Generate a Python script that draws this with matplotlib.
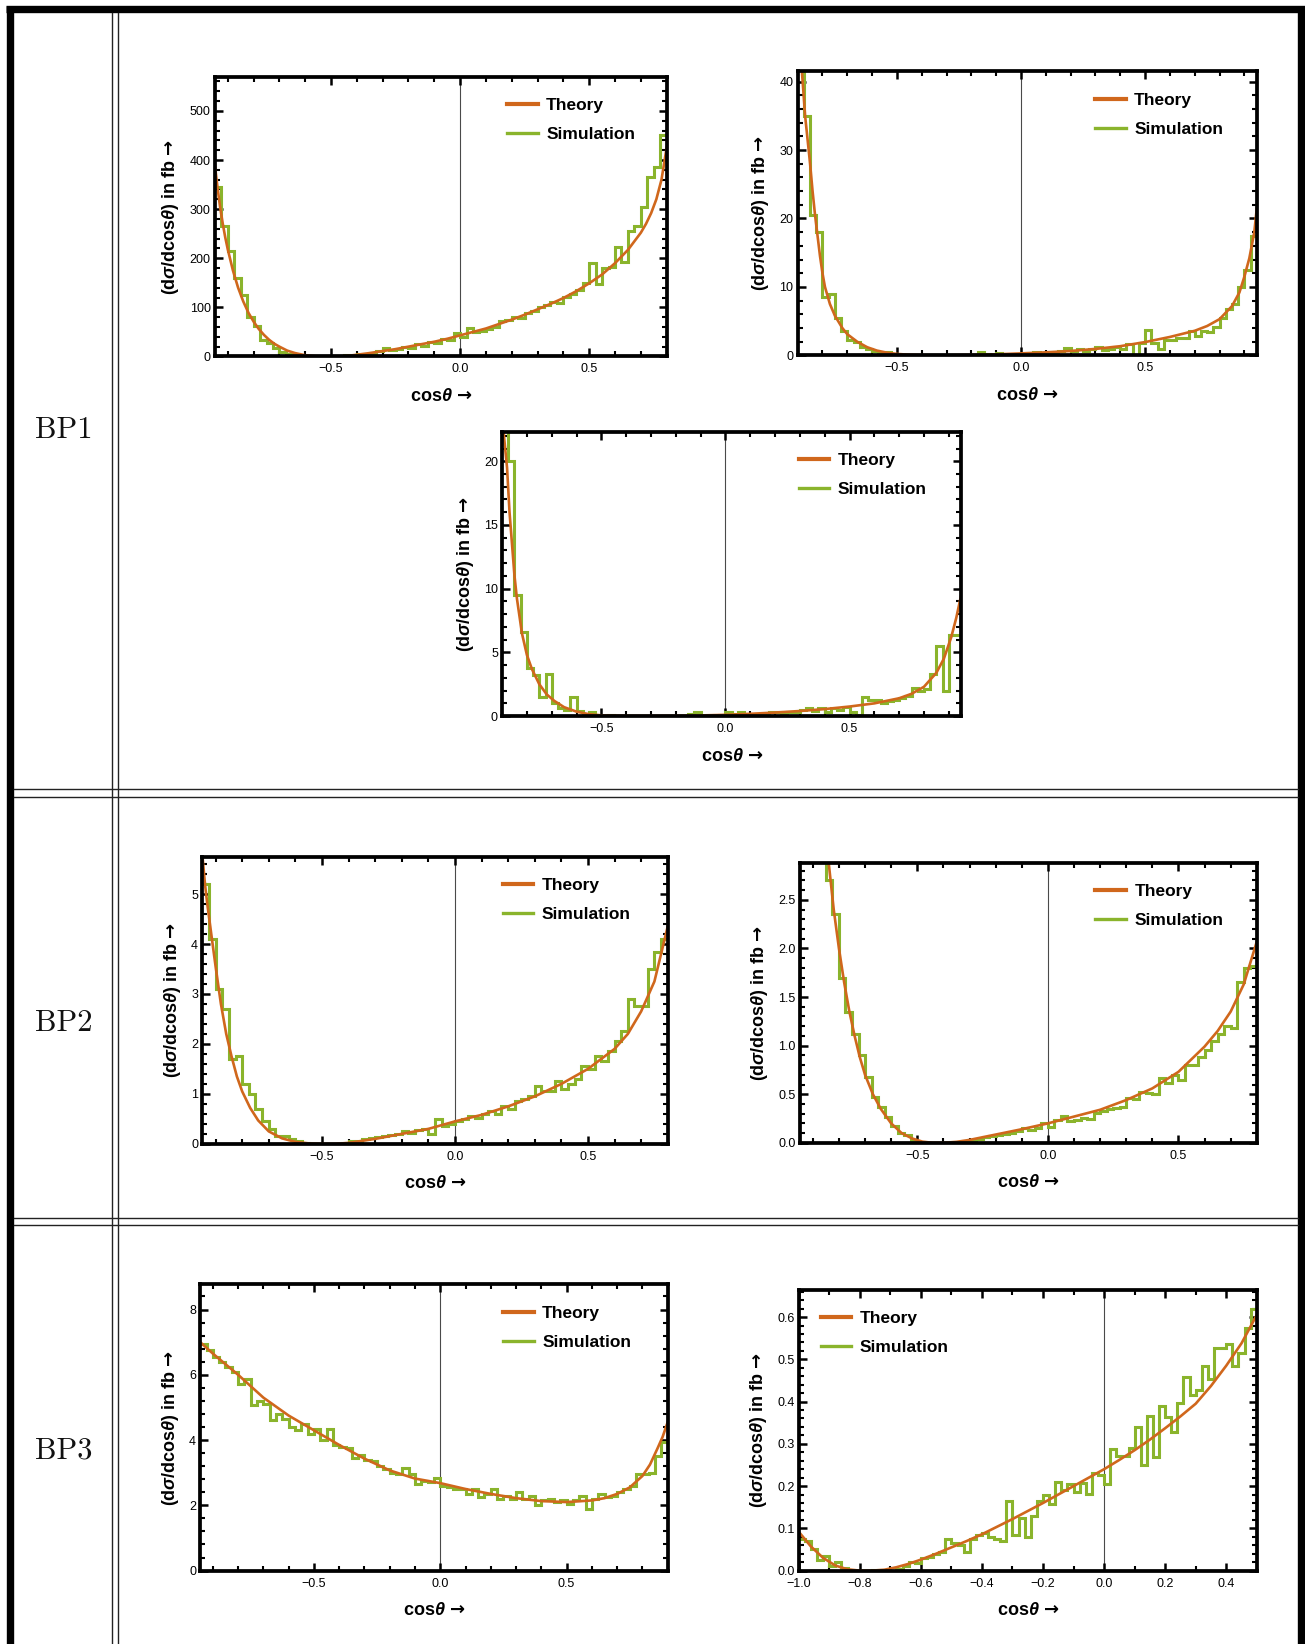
import numpy as np
import matplotlib
matplotlib.use('Agg')
import matplotlib.pyplot as plt
from matplotlib.lines import Line2D
from matplotlib.ticker import MultipleLocator

plt.rcParams['font.family'] = ['Liberation Sans', 'DejaVu Sans']
plt.rcParams['mathtext.fontset'] = 'custom'
plt.rcParams['mathtext.rm'] = 'Liberation Sans:bold'
plt.rcParams['mathtext.bf'] = 'Liberation Sans:bold'
plt.rcParams['mathtext.it'] = 'Liberation Sans:bold:italic'
plt.rcParams['mathtext.sf'] = 'DejaVu Sans:bold'

# ---------------------------------------------------------------- data
row_labels = ['BP1', 'BP2', 'BP3']
legend_labels = ['Theory', 'Simulation']

# BP1 - top left
bp1a_theory_x = [-0.95, -0.94, -0.93, -0.92, -0.91, -0.9, -0.88, -0.86, -0.84, -0.82,
                 -0.8, -0.78, -0.76, -0.74, -0.72, -0.7, -0.67, -0.64, -0.6, -0.56,
                 -0.52, -0.48, -0.44, -0.4, -0.35, -0.3, -0.25, -0.2, -0.15, -0.1,
                 -0.05, 0.0, 0.05, 0.1, 0.15, 0.2, 0.25, 0.3, 0.35, 0.4,
                 0.45, 0.5, 0.55, 0.6, 0.65, 0.7, 0.72, 0.74, 0.76, 0.78, 0.8]
bp1a_theory_y = [390, 345, 305, 272, 243, 218, 175, 140, 112, 89,
                 71, 56, 44, 34, 26, 20, 12, 7, 2.5, 0.5,
                 0, 0, 1, 3.5, 7, 11, 15, 20, 25, 30,
                 36, 43, 50, 57, 66, 75, 85, 96, 107, 119,
                 133, 149, 167, 190, 217, 252, 270, 292, 320, 360, 425]
bp1a_bin_start, bp1a_bin_width = -0.95, 0.025
bp1a_hist = [345, 265, 215, 160, 125, 80, 62, 33, 27, 18,
             10, 6, 3, 1, 0, 0, 0, 0, 0, 0.5,
             2, 4, 5, 6, 8, 11, 17, 13, 16, 20,
             18, 25, 22, 30, 28, 35, 33, 48, 40, 58,
             50, 52, 55, 60, 72, 74, 80, 78, 88, 92,
             100, 104, 110, 108, 122, 128, 135, 150, 190, 148,
             180, 182, 222, 192, 255, 265, 305, 365, 385, 450]

# BP1 - top right
bp1b_theory_x = [-0.9, -0.89, -0.88, -0.87, -0.86, -0.85, -0.84, -0.83, -0.82, -0.81,
                 -0.8, -0.79, -0.77, -0.75, -0.72, -0.7, -0.66, -0.62, -0.58, -0.54,
                 -0.5, -0.45, -0.4, -0.3, -0.2, -0.1, 0.0, 0.1, 0.2, 0.3,
                 0.4, 0.5, 0.6, 0.7, 0.75, 0.8, 0.85, 0.88, 0.9, 0.92, 0.94, 0.95]
bp1b_theory_y = [50, 45, 40, 35, 31.5, 28, 24, 20.5, 17.5, 14.5,
                 12, 10, 7.5, 5.8, 4.0, 3.1, 2.0, 1.2, 0.7, 0.4,
                 0.22, 0.1, 0.04, 0.02, 0.07, 0.16, 0.3, 0.45, 0.65, 0.95,
                 1.35, 1.95, 2.7, 3.6, 4.3, 5.3, 7.2, 9.2, 11.5, 14.2, 18, 21.5]
bp1b_bin_start, bp1b_bin_width = -0.9, 0.025
bp1b_hist = [45, 35, 20.5, 18, 8.5, 9, 5.5, 3.5, 2.2, 2.0,
             1.3, 0.9, 0.6, 0.5, 0.45, 0.2, 0.1, 0, 0, 0,
             0, 0, 0, 0, 0, 0, 0, 0, 0, 0.5,
             0.2, 0, 0.3, 0.1, 0.1, 0.2, 0.2, 0.3, 0.5, 0.3,
             0.5, 0.4, 0.6, 1.1, 0.6, 0.9, 0.7, 0.9, 1.2, 0.8,
             1.0, 1.3, 1.0, 1.6, 0.1, 1.8, 3.7, 1.8, 1.0, 2.3,
             2.3, 2.6, 2.5, 3.6, 2.9, 3.5, 3.4, 4.2, 5.5, 6.8,
             7.5, 10, 12.5, 17.5, 24]

# BP1 - middle
bp1c_theory_x = [-0.9, -0.89, -0.88, -0.87, -0.86, -0.85, -0.84, -0.82, -0.8, -0.78,
                 -0.75, -0.72, -0.69, -0.65, -0.6, -0.55, -0.5, -0.4, -0.3, -0.2,
                 -0.1, 0.0, 0.1, 0.2, 0.3, 0.4, 0.5, 0.6, 0.7, 0.75,
                 0.8, 0.85, 0.88, 0.91, 0.93, 0.95]
bp1c_theory_y = [23.5, 21.5, 19.5, 16, 13.5, 11, 9.2, 6.5, 4.8, 3.7,
                 2.5, 1.7, 1.2, 0.7, 0.35, 0.15, 0.06, 0.02, 0.01, 0.02,
                 0.05, 0.1, 0.18, 0.28, 0.4, 0.55, 0.75, 1.0, 1.4, 1.75,
                 2.3, 3.4, 4.5, 6.2, 7.7, 9.5]
bp1c_bin_start, bp1c_bin_width = -0.9, 0.025
bp1c_hist = [23, 20, 9.5, 6.6, 3.8, 3.2, 1.5, 3.3, 1.0, 0.6,
             0.5, 1.5, 0.4, 0.1, 0.3, 0.05, 0, 0.1, 0, 0,
             0, 0, 0, 0, 0, 0, 0, 0, 0, 0,
             0.2, 0.3, 0, 0.1, 0, 0.1, 0.3, 0.2, 0.3, 0.1,
             0.1, 0.2, 0.1, 0.3, 0.3, 0.2, 0.35, 0.3, 0.5, 0.6,
             0.4, 0.6, 0.3, 0.6, 0.5, 0.7, 0.3, 0.1, 1.5, 1.3,
             1.3, 1.0, 1.2, 1.3, 1.4, 1.6, 2.2, 2.0, 2.1, 3.3,
             5.5, 2.0, 6.4, 6.4, 8.8]

# BP2 - left
bp2a_theory_x = [-0.95, -0.94, -0.93, -0.92, -0.9, -0.88, -0.86, -0.84, -0.82, -0.8,
                 -0.77, -0.74, -0.7, -0.65, -0.6, -0.55, -0.5, -0.45, -0.4, -0.3,
                 -0.2, -0.1, 0.0, 0.1, 0.2, 0.3, 0.4, 0.5, 0.6, 0.65,
                 0.7, 0.75, 0.8]
bp2a_theory_y = [5.8, 5.2, 4.75, 4.35, 3.55, 2.8, 2.2, 1.75, 1.35, 1.05,
                 0.72, 0.47, 0.25, 0.11, 0.04, 0.01, 0, 0, 0.02, 0.1,
                 0.2, 0.3, 0.45, 0.58, 0.75, 0.95, 1.2, 1.5, 1.9, 2.2,
                 2.65, 3.25, 4.35]
bp2a_bin_start, bp2a_bin_width = -0.95, 0.025
bp2a_hist = [5.2, 4.1, 3.1, 2.7, 1.7, 1.75, 1.2, 1.0, 0.7, 0.45,
             0.3, 0.15, 0.15, 0.1, 0.05, 0.02, 0, 0, 0, 0,
             0, 0.02, 0.05, 0.06, 0.1, 0.12, 0.13, 0.15, 0.17, 0.2,
             0.25, 0.22, 0.28, 0.3, 0.2, 0.5, 0.35, 0.4, 0.45, 0.5,
             0.55, 0.52, 0.6, 0.65, 0.6, 0.75, 0.7, 0.85, 0.9, 0.95,
             1.15, 1.05, 1.05, 1.25, 1.1, 1.2, 1.3, 1.55, 1.5, 1.75,
             1.65, 1.85, 2.05, 2.25, 2.9, 2.75, 2.75, 3.5, 3.85, 4.1]

# BP2 - right
bp2b_theory_x = [-0.9, -0.87, -0.85, -0.84, -0.83, -0.82, -0.8, -0.78, -0.76, -0.74,
                 -0.72, -0.7, -0.67, -0.64, -0.6, -0.56, -0.52, -0.48, -0.44, -0.4,
                 -0.35, -0.3, -0.2, -0.1, 0.0, 0.1, 0.2, 0.3, 0.4, 0.5,
                 0.6, 0.65, 0.7, 0.75, 0.8]
bp2b_theory_y = [4.8, 3.7, 3.15, 2.9, 2.65, 2.4, 2.0, 1.65, 1.35, 1.1,
                 0.88, 0.7, 0.5, 0.35, 0.2, 0.1, 0.045, 0.012, 0.0, 0.0,
                 0.01, 0.03, 0.085, 0.14, 0.2, 0.27, 0.34, 0.44, 0.56, 0.73,
                 0.99, 1.15, 1.35, 1.63, 2.07]
bp2b_bin_start, bp2b_bin_width = -0.95, 0.025
bp2b_hist = [5.0, 4.4, 3.8, 3.3, 2.7, 2.35, 1.7, 1.35, 1.12, 0.9,
             0.68, 0.47, 0.37, 0.27, 0.17, 0.1, 0.08, 0.03, 0.01, 0,
             0, 0, 0, 0.005, 0.01, 0.02, 0.03, 0.04, 0.06, 0.07,
             0.08, 0.09, 0.1, 0.12, 0.15, 0.13, 0.15, 0.2, 0.16, 0.23,
             0.28, 0.22, 0.24, 0.26, 0.25, 0.31, 0.33, 0.35, 0.36, 0.37,
             0.46, 0.45, 0.52, 0.51, 0.5, 0.67, 0.62, 0.7, 0.65, 0.8,
             0.8, 0.88, 0.95, 1.05, 1.12, 1.2, 1.18, 1.65, 1.8, 1.82]

# BP3 - left
bp3a_theory_x = [-0.95, -0.9, -0.8, -0.7, -0.6, -0.5, -0.4, -0.3, -0.2, -0.1,
                 0.0, 0.1, 0.2, 0.3, 0.4, 0.5, 0.6, 0.65, 0.7, 0.75,
                 0.8, 0.83, 0.86, 0.88, 0.9]
bp3a_theory_y = [7.0, 6.65, 6.0, 5.3, 4.75, 4.3, 3.85, 3.43, 3.07, 2.82,
                 2.68, 2.5, 2.35, 2.22, 2.13, 2.1, 2.15, 2.22, 2.35, 2.55,
                 2.9, 3.25, 3.75, 4.1, 4.55]
bp3a_bin_start, bp3a_bin_width = -0.95, 0.025
bp3a_hist = [6.95, 6.75, 6.55, 6.4, 6.25, 6.1, 5.73, 5.88, 5.07, 5.2,
             5.1, 4.6, 4.8, 4.65, 4.4, 4.3, 4.5, 4.2, 4.35, 4.0,
             4.35, 3.85, 3.8, 3.75, 3.45, 3.55, 3.4, 3.35, 3.2, 3.1,
             3.0, 2.95, 3.15, 2.95, 2.65, 2.75, 2.7, 2.85, 2.6, 2.55,
             2.5, 2.5, 2.35, 2.5, 2.25, 2.35, 2.5, 2.2, 2.3, 2.2,
             2.4, 2.2, 2.3, 2.0, 2.15, 2.2, 2.1, 2.15, 2.05, 2.15,
             2.3, 1.9, 2.2, 2.35, 2.25, 2.3, 2.4, 2.5, 2.6, 2.95,
             2.95, 3.0, 3.5, 3.95, 4.3]

# BP3 - right
bp3b_theory_x = [-1.0, -0.96, -0.92, -0.88, -0.84, -0.8, -0.76, -0.72, -0.68, -0.64,
                 -0.6, -0.55, -0.5, -0.45, -0.4, -0.35, -0.3, -0.25, -0.2, -0.15,
                 -0.1, -0.05, 0.0, 0.05, 0.1, 0.15, 0.2, 0.25, 0.3, 0.35,
                 0.4, 0.45, 0.5]
bp3b_theory_y = [0.092, 0.057, 0.03, 0.012, 0.003, 0.0, 0.0, 0.002, 0.008, 0.016,
                 0.026, 0.04, 0.055, 0.07, 0.086, 0.104, 0.122, 0.141, 0.16, 0.18,
                 0.2, 0.22, 0.24, 0.262, 0.285, 0.31, 0.337, 0.365, 0.395, 0.437,
                 0.485, 0.538, 0.605]
bp3b_bin_start, bp3b_bin_width = -1.0, 0.02
bp3b_hist = [0.075, 0.07, 0.05, 0.025, 0.035, 0.01, 0.02, 0.005, 0, 0,
             0, 0, 0.002, 0.002, 0.002, 0, 0.004, 0.012, 0.02, 0.018,
             0.03, 0.033, 0.04, 0.045, 0.075, 0.065, 0.06, 0.045, 0.075, 0.085,
             0.088, 0.08, 0.075, 0.07, 0.165, 0.085, 0.125, 0.08, 0.13, 0.165,
             0.178, 0.158, 0.21, 0.19, 0.204, 0.186, 0.208, 0.182, 0.231, 0.226,
             0.204, 0.287, 0.272, 0.272, 0.289, 0.339, 0.25, 0.367, 0.269, 0.39,
             0.364, 0.329, 0.397, 0.459, 0.416, 0.428, 0.485, 0.453, 0.527, 0.527,
             0.537, 0.485, 0.516, 0.574, 0.619]

# ---------------------------------------------------------------- style / layout
ORANGE = '#D0671C'
GREEN = '#8AB42C'
W, H = 1245.0, 1568.0   # layout reference units


def rect(L, T, R, B):
    return [L / W, 1 - B / H, (R - L) / W, (B - T) / H]


panels = [
    dict(pos=(205, 73, 636, 340), xlim=(-0.95, 0.8), ylim=(0, 570), xmaj=0.5, xmin=0.1, ymaj=100, ymin=20,
         legx=0.647, tx=bp1a_theory_x, ty=bp1a_theory_y, hs=bp1a_bin_start, hw=bp1a_bin_width, hv=bp1a_hist),
    dict(pos=(761, 68, 1199, 339), xlim=(-0.9, 0.95), ylim=(0, 41.5), xmaj=0.5, xmin=0.1, ymaj=10, ymin=2,
         legx=0.648, tx=bp1b_theory_x, ty=bp1b_theory_y, hs=bp1b_bin_start, hw=bp1b_bin_width, hv=bp1b_hist),
    dict(pos=(479, 412, 917, 683), xlim=(-0.9, 0.95), ylim=(0, 22.3), xmaj=0.5, xmin=0.1, ymaj=5, ymin=1,
         legx=0.646, tx=bp1c_theory_x, ty=bp1c_theory_y, hs=bp1c_bin_start, hw=bp1c_bin_width, hv=bp1c_hist),
    dict(pos=(193, 817, 637, 1091), xlim=(-0.95, 0.8), ylim=(0, 5.75), xmaj=0.5, xmin=0.1, ymaj=1, ymin=0.2,
         legx=0.646, tx=bp2a_theory_x, ty=bp2a_theory_y, hs=bp2a_bin_start, hw=bp2a_bin_width, hv=bp2a_hist),
    dict(pos=(763, 823, 1199, 1090), xlim=(-0.95, 0.8), ylim=(0, 2.88), xmaj=0.5, xmin=0.1, ymaj=0.5, ymin=0.1,
         legx=0.647, tx=bp2b_theory_x, ty=bp2b_theory_y, hs=bp2b_bin_start, hw=bp2b_bin_width, hv=bp2b_hist),
    dict(pos=(191, 1225, 637, 1498), xlim=(-0.95, 0.9), ylim=(0, 8.77), xmaj=0.5, xmin=0.1, ymaj=2, ymin=0.4,
         legx=0.648, tx=bp3a_theory_x, ty=bp3a_theory_y, hs=bp3a_bin_start, hw=bp3a_bin_width, hv=bp3a_hist),
    dict(pos=(762, 1230, 1199, 1498), xlim=(-1.0, 0.5), ylim=(0, 0.665), xmaj=0.2, xmin=0.1, ymaj=0.1, ymin=0.02,
         legx=0.048, tx=bp3b_theory_x, ty=bp3b_theory_y, hs=bp3b_bin_start, hw=bp3b_bin_width, hv=bp3b_hist),
]

fig = plt.figure(figsize=(13.05, 16.44), dpi=100)
fig.patch.set_facecolor('white')

# table frame
bg = fig.add_axes([0, 0, 1, 1])
bg.set_xlim(0, W)
bg.set_ylim(H, 0)
bg.axis('off')
thick = 5.3
bg.plot([6, W], [9, 9], color='black', lw=thick, solid_capstyle='butt')
bg.plot([10, 10], [6, H], color='black', lw=thick, solid_capstyle='butt')
bg.plot([1241, 1241], [6, H], color='black', lw=thick, solid_capstyle='butt')
for xc in (107, 113):
    bg.plot([xc, xc], [12, H], color='#222222', lw=1.0)
for yr in (753, 760, 1162, 1168):
    bg.plot([13, 1238], [yr, yr], color='#222222', lw=1.0)
for lab, yc in zip(row_labels, (410, 976, 1384)):
    bg.text(61, yc, lab, family='cmr10', fontsize=22, ha='center', va='center', color='#111111')

handles = [Line2D([], [], color=ORANGE, lw=3.0), Line2D([], [], color=GREEN, lw=2.4)]

for p in panels:
    ax = fig.add_axes(rect(*p['pos']))
    edges = p['hs'] + p['hw'] * np.arange(len(p['hv']) + 1)
    ax.axvline(0, color='#4a4a4a', lw=0.8, zorder=1)
    ax.stairs(p['hv'], edges, color=GREEN, lw=2.2, baseline=None, zorder=2)
    ax.plot(p['tx'], p['ty'], color=ORANGE, lw=1.9, zorder=3)
    ax.set_xlim(*p['xlim'])
    ax.set_ylim(*p['ylim'])
    ax.xaxis.set_major_locator(MultipleLocator(p['xmaj']))
    ax.xaxis.set_minor_locator(MultipleLocator(p['xmin']))
    ax.yaxis.set_major_locator(MultipleLocator(p['ymaj']))
    ax.yaxis.set_minor_locator(MultipleLocator(p['ymin']))
    for s in ax.spines.values():
        s.set_linewidth(2.7)
        s.set_zorder(5)
    ax.tick_params(which='both', direction='in', top=True, right=True, labelsize=9)
    ax.tick_params(axis='x', which='both', pad=5)
    ax.tick_params(axis='y', which='both', pad=3)
    ax.tick_params(which='major', length=5.5, width=1.8)
    ax.tick_params(which='minor', length=3.5, width=1.5)
    ax.set_ylabel(r'(d$\sigma$/dcos$\theta$) in fb $\mathsf{→}$', fontsize=13, fontweight='bold', labelpad=6)
    ax.set_xlabel(r'cos$\theta$ $\mathsf{→}$', fontsize=13, fontweight='bold', labelpad=9)
    ax.legend(handles, legend_labels, loc='upper left', bbox_to_anchor=(p['legx'], 0.925),
              frameon=False, handlelength=1.75, handletextpad=0.5, labelspacing=0.8,
              borderpad=0, borderaxespad=0, prop={'weight': 'bold', 'size': 12.5})

fig.savefig('out.png', dpi=100, facecolor='white')
